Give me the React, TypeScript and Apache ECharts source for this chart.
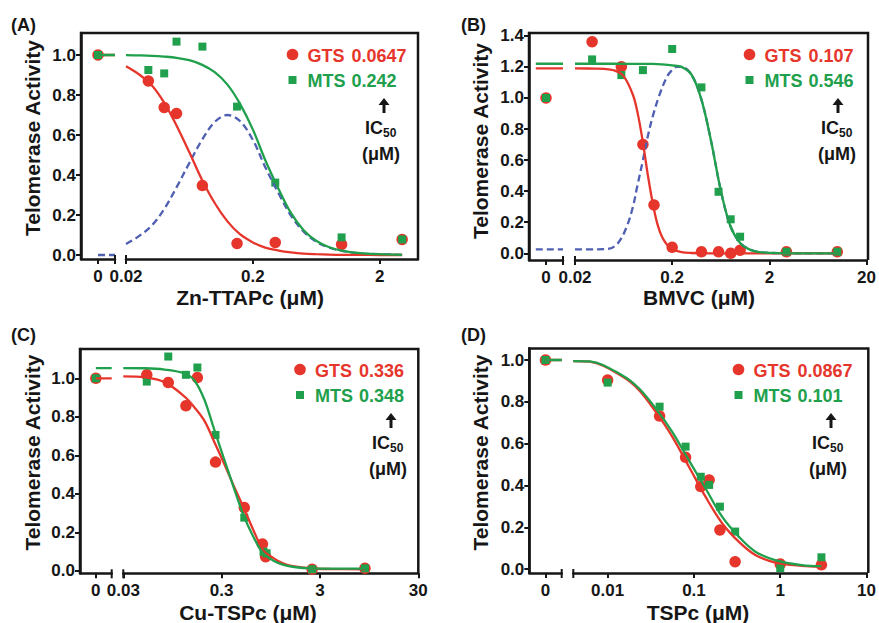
import React, { useEffect, useRef } from 'react';
import * as echarts from 'echarts';

type Pt = [number, number];

const RED = '#e6362c';
const GREEN = '#20a04c';
const BLUE = '#4f5fb2';
const INK = '#161616';
const FONT = '"Liberation Sans", Arial, Helvetica, sans-serif';

const seriesNames = ['GTS', 'MTS'];
const yTitle = 'Telomerase Activity';

// ---------- Panel A : Zn-TTAPc ----------
const aXTitle = 'Zn-TTAPc (μM)';
const aXTicks = [0.02, 0.2, 2];
const aYTicks = [0, 0.2, 0.4, 0.6, 0.8, 1.0];
const aGtsX = [0, 0.03, 0.04, 0.05, 0.08, 0.15, 0.3, 1, 3];
const aGtsY = [1.0, 0.87, 0.738, 0.708, 0.347, 0.058, 0.063, 0.053, 0.078];
const aMtsX = [0, 0.03, 0.04, 0.05, 0.08, 0.15, 0.3, 1, 3];
const aMtsY = [1.0, 0.925, 0.908, 1.067, 1.042, 0.742, 0.362, 0.088, 0.078];
const aIC50 = ['0.0647', '0.242'];
const aPlateau = [1.0, 1.0, 0.0];
const aFitGts: Pt[] = [
  [0.02, 0.944], [0.025, 0.906], [0.032, 0.848], [0.04, 0.762], [0.05, 0.648], [0.063, 0.515],
  [0.079, 0.379], [0.1, 0.26], [0.126, 0.168], [0.158, 0.104], [0.2, 0.063], [0.25, 0.037],
  [0.32, 0.022], [0.4, 0.013], [0.5, 0.007], [0.63, 0.004], [0.79, 0.002], [1, 0.001],
  [1.4, 0.001], [2, 0], [3, 0],
];
const aFitMts: Pt[] = [
  [0.02, 0.999], [0.025, 0.998], [0.032, 0.996], [0.04, 0.992], [0.05, 0.986], [0.063, 0.974],
  [0.079, 0.952], [0.1, 0.914], [0.126, 0.852], [0.158, 0.757], [0.2, 0.627], [0.25, 0.475],
  [0.32, 0.328], [0.4, 0.209], [0.5, 0.125], [0.63, 0.071], [0.79, 0.04], [1, 0.022],
  [1.4, 0.009], [2, 0.004], [3, 0.001],
];
const aFitDiff: Pt[] = [
  [0.02, 0.055], [0.025, 0.092], [0.032, 0.148], [0.04, 0.23], [0.05, 0.338], [0.063, 0.459],
  [0.079, 0.573], [0.1, 0.665], [0.126, 0.7], [0.158, 0.67], [0.2, 0.575], [0.25, 0.44],
  [0.32, 0.306], [0.4, 0.196], [0.5, 0.118], [0.63, 0.067], [0.79, 0.038], [1, 0.021],
  [1.4, 0.008], [2, 0.004], [3, 0.001],
];

// ---------- Panel B : BMVC ----------
const bXTitle = 'BMVC (μM)';
const bXTicks = [0.02, 0.2, 2, 20];
const bYTicks = [0, 0.2, 0.4, 0.6, 0.8, 1.0, 1.2, 1.4];
const bGtsX = [0, 0.03, 0.06, 0.1, 0.13, 0.2, 0.4, 0.6, 0.8, 1, 3, 10];
const bGtsY = [1.0, 1.362, 1.201, 0.701, 0.311, 0.039, 0.01, 0.01, 0.0, 0.02, 0.01, 0.01];
const bMtsX = [0, 0.03, 0.06, 0.1, 0.2, 0.4, 0.6, 0.8, 1, 3, 10];
const bMtsY = [1.0, 1.248, 1.147, 1.179, 1.315, 1.068, 0.396, 0.219, 0.107, 0.01, 0.01];
const bIC50 = ['0.107', '0.546'];
const bPlateau = [1.19, 1.22, 0.026];
const bFitGts: Pt[] = [
  [0.02, 1.19], [0.032, 1.189], [0.04, 1.187], [0.05, 1.178], [0.063, 1.142], [0.079, 1.019],
  [0.089, 0.891], [0.1, 0.713], [0.112, 0.509], [0.126, 0.325], [0.141, 0.188], [0.158, 0.103],
  [0.178, 0.054], [0.2, 0.027], [0.25, 0.007], [0.316, 0.002], [0.5, 0], [1, 0], [3.16, 0], [10, 0],
];
const bFitMts: Pt[] = [
  [0.02, 1.22], [0.05, 1.22], [0.1, 1.219], [0.126, 1.219], [0.158, 1.216], [0.2, 1.21],
  [0.25, 1.2], [0.316, 1.15], [0.398, 0.994], [0.5, 0.73], [0.63, 0.41], [0.79, 0.179],
  [1, 0.067], [1.26, 0.024], [1.58, 0.008], [2.5, 0.001], [5, 0], [10, 0],
];
const bFitDiff: Pt[] = [
  [0.02, 0.026], [0.032, 0.026], [0.045, 0.03], [0.056, 0.07], [0.068, 0.17], [0.079, 0.3],
  [0.086, 0.41], [0.1, 0.6], [0.112, 0.75], [0.126, 0.88], [0.148, 1.02], [0.178, 1.14],
  [0.2, 1.18], [0.22, 1.2], [0.25, 1.2], [0.316, 1.15], [0.398, 0.994], [0.5, 0.73],
  [0.63, 0.41], [0.79, 0.179], [1, 0.067], [1.26, 0.024], [1.58, 0.008], [2.5, 0.001], [5, 0], [10, 0],
];

// ---------- Panel C : Cu-TSPc ----------
const cXTitle = 'Cu-TSPc (μM)';
const cXTicks = [0.03, 0.3, 3, 30];
const cYTicks = [0, 0.2, 0.4, 0.6, 0.8, 1.0];
const cGtsX = [0, 0.052, 0.086, 0.13, 0.17, 0.26, 0.51, 0.78, 0.84, 2.5, 8.6];
const cGtsY = [1.0, 1.018, 0.978, 0.857, 1.004, 0.565, 0.329, 0.14, 0.074, 0.009, 0.014];
const cMtsX = [0, 0.052, 0.086, 0.13, 0.17, 0.26, 0.51, 0.8, 0.86, 2.5, 8.6];
const cMtsY = [1.0, 0.983, 1.113, 1.018, 1.056, 0.706, 0.277, 0.1, 0.092, 0.009, 0.014];
const cIC50 = ['0.336', '0.348'];
const cPlateau = [1.0, 1.053];
const cFitGts: Pt[] = [
  [0.03, 1.01], [0.05, 1.005], [0.079, 0.98], [0.126, 0.905], [0.158, 0.85], [0.2, 0.78],
  [0.25, 0.675], [0.316, 0.56], [0.4, 0.44], [0.5, 0.33], [0.63, 0.213], [0.79, 0.11],
  [1.0, 0.068], [1.26, 0.04], [1.58, 0.025], [2.5, 0.013], [4, 0.01], [8.6, 0.009],
];
const cFitMts: Pt[] = [
  [0.03, 1.053], [0.05, 1.052], [0.079, 1.045], [0.126, 1.025], [0.158, 0.99], [0.2, 0.89],
  [0.25, 0.74], [0.316, 0.585], [0.4, 0.43], [0.5, 0.29], [0.63, 0.178], [0.79, 0.092],
  [1.0, 0.055], [1.26, 0.033], [1.58, 0.022], [2.5, 0.013], [4, 0.012], [8.6, 0.012],
];

// ---------- Panel D : TSPc ----------
const dXTitle = 'TSPc (μM)';
const dXTicks = [0.01, 0.1, 1, 10];
const dYTicks = [0, 0.2, 0.4, 0.6, 0.8, 1.0];
const dGtsX = [0, 0.01, 0.04, 0.08, 0.12, 0.15, 0.2, 0.3, 1, 3];
const dGtsY = [1.0, 0.904, 0.732, 0.535, 0.395, 0.427, 0.188, 0.036, 0.025, 0.021];
const dMtsX = [0, 0.01, 0.04, 0.08, 0.12, 0.15, 0.2, 0.3, 1, 3];
const dMtsY = [1.0, 0.892, 0.777, 0.586, 0.442, 0.403, 0.299, 0.18, 0.005, 0.057];
const dIC50 = ['0.0867', '0.101'];
const dPlateau = [1.0, 1.0];
const dFitGts: Pt[] = [
  [0.004, 0.995], [0.0062, 0.992], [0.015, 0.92], [0.023, 0.857], [0.036, 0.753], [0.056, 0.634],
  [0.0875, 0.49], [0.136, 0.347], [0.212, 0.22], [0.33, 0.132], [0.515, 0.068], [0.875, 0.032],
  [1.77, 0.016], [3.0, 0.012],
];
const dFitMts: Pt[] = [
  [0.004, 0.995], [0.0062, 0.993], [0.015, 0.925], [0.023, 0.865], [0.036, 0.769], [0.056, 0.657],
  [0.0875, 0.52], [0.136, 0.387], [0.212, 0.251], [0.33, 0.156], [0.515, 0.084], [0.875, 0.044],
  [1.77, 0.02], [3.0, 0.015],
];

interface PanelData {
  label: string;
  xTitle: string;
  xTicks: number[];
  yTicks: number[];
  gtsX: number[];
  gtsY: number[];
  mtsX: number[];
  mtsY: number[];
  ic50: string[];
  plateau: number[];
  fitGts: Pt[];
  fitMts: Pt[];
  fitDiff?: Pt[];
}

const panels: PanelData[] = [
  { label: '(A)', xTitle: aXTitle, xTicks: aXTicks, yTicks: aYTicks, gtsX: aGtsX, gtsY: aGtsY, mtsX: aMtsX, mtsY: aMtsY, ic50: aIC50, plateau: aPlateau, fitGts: aFitGts, fitMts: aFitMts, fitDiff: aFitDiff },
  { label: '(B)', xTitle: bXTitle, xTicks: bXTicks, yTicks: bYTicks, gtsX: bGtsX, gtsY: bGtsY, mtsX: bMtsX, mtsY: bMtsY, ic50: bIC50, plateau: bPlateau, fitGts: bFitGts, fitMts: bFitMts, fitDiff: bFitDiff },
  { label: '(C)', xTitle: cXTitle, xTicks: cXTicks, yTicks: cYTicks, gtsX: cGtsX, gtsY: cGtsY, mtsX: cMtsX, mtsY: cMtsY, ic50: cIC50, plateau: cPlateau, fitGts: cFitGts, fitMts: cFitMts },
  { label: '(D)', xTitle: dXTitle, xTicks: dXTicks, yTicks: dYTicks, gtsX: dGtsX, gtsY: dGtsY, mtsX: dMtsX, mtsY: dMtsY, ic50: dIC50, plateau: dPlateau, fitGts: dFitGts, fitMts: dFitMts },
];

// ---------- Layout (pixels) ----------
interface Layout {
  labelX: number; labelY: number;
  frameLeft: number; zeroRight: number; mainLeft: number; right: number; top: number; bottom: number;
  yMin: number; yMax: number; xMin: number; xMax: number; zeroSegFrom: number;
  yTitleX: number; yTitleY: number; xTitleX: number; xTitleY: number;
  legendX: number; legendY1: number; legendY2: number;
  arrowX: number; arrowY: number; noteX: number; icY: number; muY: number;
}

const layouts: Layout[] = [
  { labelX: 11, labelY: 25, frameLeft: 81, zeroRight: 115, mainLeft: 126, right: 418, top: 33, bottom: 259,
    yMin: -0.02, yMax: 1.11, xMin: 0.02, xMax: 4, zeroSegFrom: 0,
    yTitleX: 32, yTitleY: 138, xTitleX: 250, xTitleY: 297,
    legendX: 292.5, legendY1: 54.5, legendY2: 80, arrowX: 384, arrowY: 106, noteX: 381, icY: 128, muY: 154 },
  { labelX: 461, labelY: 25, frameLeft: 529, zeroRight: 563, mainLeft: 575, right: 868, top: 33, bottom: 260,
    yMin: -0.043, yMax: 1.418, xMin: 0.02, xMax: 20, zeroSegFrom: -0.6,
    yTitleX: 480, yTitleY: 141, xTitleX: 699, xTitleY: 297,
    legendX: 749.5, legendY1: 54.5, legendY2: 80, arrowX: 838, arrowY: 106, noteX: 837, icY: 128, muY: 154 },
  { labelX: 11, labelY: 335, frameLeft: 80, zeroRight: 111.7, mainLeft: 123.3, right: 418.3, top: 349, bottom: 573.3,
    yMin: -0.012, yMax: 1.152, xMin: 0.03, xMax: 30, zeroSegFrom: 0,
    yTitleX: 32, yTitleY: 452.5, xTitleX: 248, xTitleY: 612,
    legendX: 300, legendY1: 369.5, legendY2: 395, arrowX: 391, arrowY: 421, noteX: 388, icY: 443, muY: 469 },
  { labelX: 461, labelY: 335, frameLeft: 529.3, zeroRight: 561.7, mainLeft: 573.3, right: 868.3, top: 348.5, bottom: 573,
    yMin: -0.018, yMax: 1.055, xMin: 0.004, xMax: 10, zeroSegFrom: 0,
    yTitleX: 480, yTitleY: 452.5, xTitleX: 698, xTitleY: 612,
    legendX: 738.5, legendY1: 369.5, legendY2: 395, arrowX: 831, arrowY: 421, noteX: 828, icY: 443, muY: 469 },
];

const lg = (v: number) => Math.log10(v);
const fmtLog = (v: number) => String(Number(Math.pow(10, v).toPrecision(6)));

function buildOption() {
  const grid: any[] = [];
  const xAxis: any[] = [];
  const yAxis: any[] = [];
  const series: any[] = [];
  const graphic: any[] = [];

  const lineAx = { show: true, onZero: false, lineStyle: { color: INK, width: 2.5 } };
  const tickStyle = { color: INK, width: 2 };
  const labStyle = { fontSize: 17, fontWeight: 'bold', color: INK, fontFamily: FONT };

  const txt = (x: number, y: number, text: string, size: number, color: string, align: string, extra: any = {}) => ({
    type: 'text', x, y, z: 20, silent: true, ...extra,
    style: {
      text, fill: color, fontSize: size, fontWeight: 'bold', fontFamily: FONT,
      align, verticalAlign: 'middle', textAlign: align, textVerticalAlign: 'middle',
    },
  });

  panels.forEach((p, i) => {
    const L = layouts[i];
    const zg = i * 2;
    const mg = i * 2 + 1;
    const h = L.bottom - L.top;

    grid.push({ left: L.frameLeft, top: L.top, width: L.zeroRight - L.frameLeft, height: h });
    grid.push({ left: L.mainLeft, top: L.top, width: L.right - L.mainLeft, height: h });

    xAxis.push({
      type: 'value', gridIndex: zg, min: -1, max: 1,
      axisLine: lineAx,
      axisTick: { show: true, length: 5, lineStyle: tickStyle, customValues: [0] },
      axisLabel: { ...labStyle, margin: 9, customValues: [0], formatter: () => '0' },
      splitLine: { show: false },
    });
    const tv = p.xTicks.map(lg);
    xAxis.push({
      type: 'value', gridIndex: mg, min: lg(L.xMin), max: lg(L.xMax),
      axisLine: lineAx,
      axisTick: { show: true, length: 5, lineStyle: tickStyle, customValues: tv },
      axisLabel: { ...labStyle, margin: 9, customValues: tv, formatter: fmtLog },
      splitLine: { show: false },
    });
    yAxis.push({
      type: 'value', gridIndex: zg, min: L.yMin, max: L.yMax,
      axisLine: lineAx,
      axisTick: { show: true, length: 5, lineStyle: tickStyle, customValues: p.yTicks },
      axisLabel: { ...labStyle, margin: 5, customValues: p.yTicks, formatter: (v: number) => v.toFixed(1) },
      splitLine: { show: false },
    });
    yAxis.push({ type: 'value', gridIndex: mg, min: L.yMin, max: L.yMax, show: false, splitLine: { show: false } });

    const fitLine = (data: Pt[], color: string, dashed: boolean, name: string) => ({
      type: 'line', name, xAxisIndex: mg, yAxisIndex: mg, silent: true,
      data: data.map(([x, y]) => [lg(x), y]),
      smooth: 0.35, showSymbol: false, symbol: 'none',
      lineStyle: { color, width: 2.3, type: dashed ? [7, 4] : 'solid' },
    });
    const plateauLine = (y: number, color: string, dashed: boolean, name: string) => ({
      type: 'line', name, xAxisIndex: zg, yAxisIndex: zg, silent: true,
      data: [[L.zeroSegFrom, y], [1, y]], showSymbol: false, symbol: 'none',
      lineStyle: { color, width: 2.3, type: dashed ? [7, 4] : 'solid' },
    });

    if (p.fitDiff) {
      series.push(fitLine(p.fitDiff, BLUE, true, 'MTS − GTS fit'));
      series.push(plateauLine(p.plateau[2], BLUE, true, 'MTS − GTS fit'));
    }
    series.push(fitLine(p.fitGts, RED, false, 'GTS fit'));
    series.push(plateauLine(p.plateau[0], RED, false, 'GTS fit'));
    series.push(fitLine(p.fitMts, GREEN, false, 'MTS fit'));
    series.push(plateauLine(p.plateau[1], GREEN, false, 'MTS fit'));

    const pts = (xs: number[], ys: number[]) => xs.map((x, k) => [x, ys[k]] as Pt);
    const gts = pts(p.gtsX, p.gtsY);
    const mts = pts(p.mtsX, p.mtsY);
    const scat = (data: Pt[], zero: boolean, name: string, sym: string, size: number, color: string) => ({
      type: 'scatter', name, silent: true,
      xAxisIndex: zero ? zg : mg, yAxisIndex: zero ? zg : mg,
      data: data.filter((d) => (zero ? d[0] === 0 : d[0] > 0)).map(([x, y]) => [zero ? 0 : lg(x), y]),
      symbol: sym, symbolSize: size, itemStyle: { color, opacity: 1 },
    });
    series.push(scat(gts, true, seriesNames[0], 'circle', 11.5, RED));
    series.push(scat(gts, false, seriesNames[0], 'circle', 11.5, RED));
    series.push(scat(mts, true, seriesNames[1], 'rect', 8, GREEN));
    series.push(scat(mts, false, seriesNames[1], 'rect', 8, GREEN));

    // frame (left, top, right) and axis-break marks
    graphic.push({
      type: 'polyline', z: 15, silent: true,
      shape: { points: [[L.frameLeft, L.bottom], [L.frameLeft, L.top], [L.right, L.top], [L.right, L.bottom]] },
      style: { stroke: INK, lineWidth: 2.5, fill: 'none' },
    });
    [L.zeroRight, L.mainLeft].forEach((bx) => {
      graphic.push({
        type: 'line', z: 15, silent: true,
        shape: { x1: bx, y1: L.bottom - 4, x2: bx, y2: L.bottom + 5 },
        style: { stroke: INK, lineWidth: 2 },
      });
    });

    // texts
    graphic.push(txt(L.labelX, L.labelY, p.label, 18, INK, 'left'));
    graphic.push(txt(L.yTitleX, L.yTitleY, yTitle, 21, INK, 'center', { rotation: Math.PI / 2 }));
    graphic.push(txt(L.xTitleX, L.xTitleY, p.xTitle, 21, INK, 'center'));

    // legend
    graphic.push({ type: 'circle', z: 20, silent: true, shape: { cx: L.legendX, cy: L.legendY1, r: 5.8 }, style: { fill: RED } });
    graphic.push({ type: 'rect', z: 20, silent: true, shape: { x: L.legendX - 4, y: L.legendY2 - 4, width: 8, height: 8 }, style: { fill: GREEN } });
    graphic.push(txt(L.legendX + 15, L.legendY1 + 1, seriesNames[0], 18, RED, 'left'));
    graphic.push(txt(L.legendX + 59, L.legendY1 + 1, p.ic50[0], 18, RED, 'left'));
    graphic.push(txt(L.legendX + 15, L.legendY2 + 1, seriesNames[1], 18, GREEN, 'left'));
    graphic.push(txt(L.legendX + 59, L.legendY2 + 1, p.ic50[1], 18, GREEN, 'left'));

    // IC50 note: bold arrow (shaft + head) and label
    graphic.push({
      type: 'line', z: 20, silent: true,
      shape: { x1: L.arrowX, y1: L.arrowY + 7, x2: L.arrowX, y2: L.arrowY - 3 },
      style: { stroke: INK, lineWidth: 3 },
    });
    graphic.push({
      type: 'polygon', z: 20, silent: true,
      shape: { points: [[L.arrowX - 5.5, L.arrowY - 1], [L.arrowX, L.arrowY - 8], [L.arrowX + 5.5, L.arrowY - 1]] },
      style: { fill: INK },
    });
    graphic.push(txt(L.noteX + 2, L.icY, 'IC', 18, INK, 'right'));
    graphic.push(txt(L.noteX + 2, L.icY + 5, '50', 12, INK, 'left'));
    graphic.push(txt(L.noteX, L.muY, '(μM)', 18, INK, 'center'));
  });

  return {
    animation: false,
    backgroundColor: '#ffffff',
    grid,
    xAxis,
    yAxis,
    series,
    graphic,
  };
}

export default function App() {
  const ref = useRef<HTMLDivElement>(null);
  useEffect(() => {
    document.body.style.margin = '0';
    if (!ref.current) return;
    const chart = echarts.init(ref.current, undefined, { renderer: 'svg' });
    chart.setOption(buildOption());
    return () => {
      chart.dispose();
    };
  }, []);
  return <div ref={ref} style={{ width: 879, height: 623 }} />;
}
